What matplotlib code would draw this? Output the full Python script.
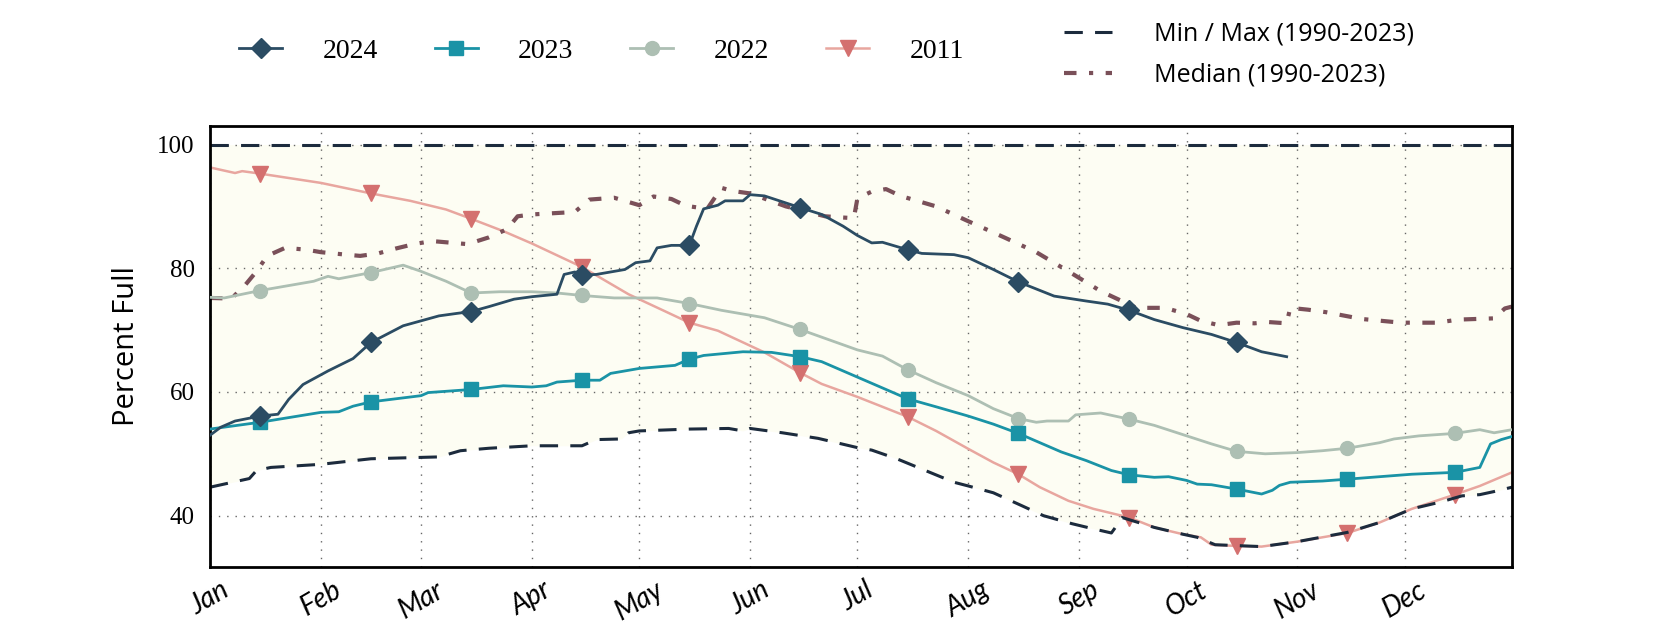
import matplotlib.pyplot as plt
import numpy as np

# day of year (0 = Jan 1)
days_2024 = [0, 3, 7, 14, 19, 22, 26, 33, 40, 45, 54, 64, 69, 73, 78, 85, 90, 97, 99, 102, 104, 108,
             116, 119, 123, 125, 129, 134, 136, 138, 142, 144, 149, 151, 155, 165, 171, 177, 181, 185,
             188, 195, 199, 208, 212, 219, 226, 236, 245, 251, 257, 264, 272, 280, 287, 294, 301]
vals_2024 = [53.0, 54.3, 55.3, 56.1, 56.4, 58.8, 61.2, 63.4, 65.4, 68.0, 70.7, 72.3, 72.7, 73.0, 73.8,
             75.0, 75.4, 75.8, 79.0, 79.4, 78.9, 79.0, 79.8, 80.9, 81.2, 83.3, 83.7, 83.7, 86.8, 89.6,
             90.2, 90.9, 90.9, 91.9, 91.7, 89.8, 88.7, 86.8, 85.3, 84.1, 84.2, 83.0, 82.4, 82.2, 81.7,
             79.8, 77.8, 75.5, 74.7, 74.2, 73.2, 71.7, 70.4, 69.3, 68.0, 66.5, 65.7]

days_2023 = [0, 14, 31, 36, 40, 45, 59, 61, 73, 82, 90, 94, 97, 104, 109, 112, 120, 130, 134, 138, 149,
             157, 165, 171, 181, 195, 203, 212, 219, 226, 238, 245, 252, 257, 264, 268, 273, 276, 280,
             287, 294, 297, 299, 302, 311, 318, 327, 336, 348, 355, 358, 361, 364]
vals_2023 = [54.0, 55.1, 56.7, 56.8, 57.7, 58.4, 59.4, 59.9, 60.4, 61.0, 60.8, 61.0, 61.6, 61.9, 61.9,
             63.0, 63.8, 64.3, 65.3, 65.9, 66.5, 66.4, 65.7, 64.9, 62.4, 58.9, 57.6, 56.1, 54.8, 53.3,
             50.3, 48.9, 47.3, 46.6, 46.2, 46.3, 45.7, 45.1, 45.0, 44.3, 43.5, 44.1, 44.9, 45.4, 45.6,
             45.9, 46.3, 46.7, 47.0, 47.8, 51.6, 52.3, 52.8]

days_2022 = [0, 4, 14, 29, 33, 36, 45, 54, 59, 66, 73, 81, 90, 97, 104, 113, 125, 134, 143, 155, 165,
             181, 188, 195, 203, 212, 219, 226, 231, 234, 240, 242, 249, 257, 264, 272, 280, 287, 295,
             304, 311, 318, 327, 331, 338, 348, 355, 359, 364]
vals_2022 = [75.3, 75.2, 76.4, 77.9, 78.7, 78.3, 79.3, 80.5, 79.5, 77.9, 76.0, 76.2, 76.2, 76.0, 75.6,
             75.2, 75.2, 74.3, 73.2, 72.0, 70.1, 66.8, 65.8, 63.6, 61.5, 59.4, 57.3, 55.7, 55.1, 55.3,
             55.3, 56.3, 56.6, 55.6, 54.6, 53.1, 51.6, 50.4, 50.0, 50.2, 50.5, 50.9, 51.8, 52.4, 52.9,
             53.3, 53.9, 53.4, 53.9]

days_2011 = [0, 7, 9, 14, 31, 45, 56, 66, 73, 82, 90, 104, 117, 127, 134, 142, 155, 165, 171, 181, 195,
             203, 212, 219, 226, 232, 240, 247, 257, 264, 272, 277, 280, 287, 294, 304, 318, 327, 336,
             348, 355, 364]
vals_2011 = [96.3, 95.4, 95.7, 95.3, 93.8, 92.1, 90.9, 89.5, 88.0, 86.0, 84.0, 80.2, 75.8, 73.1, 71.2,
             69.9, 66.4, 63.1, 61.3, 59.2, 56.0, 53.7, 50.8, 48.6, 46.7, 44.6, 42.4, 41.1, 39.7, 38.1,
             37.0, 36.5, 35.3, 35.1, 35.0, 35.8, 37.2, 38.9, 41.1, 43.4, 44.8, 47.0]

days_min = [0, 11, 13, 17, 31, 45, 64, 70, 78, 90, 104, 108, 115, 117, 120, 134, 145, 149, 151, 160,
            170, 181, 185, 192, 200, 208, 212, 219, 227, 233, 241, 246, 252, 253, 255, 264, 272, 276,
            281, 294, 304, 318, 327, 336, 344, 350, 355, 359, 364]
vals_min = [44.6, 46.0, 47.3, 47.8, 48.3, 49.2, 49.5, 50.5, 50.9, 51.3, 51.3, 52.3, 52.4, 53.4, 53.7,
            54.0, 54.1, 53.7, 54.1, 53.4, 52.5, 51.0, 50.6, 49.2, 47.3, 45.4, 44.8, 43.7, 41.6, 40.0,
            38.7, 38.0, 37.2, 38.0, 39.7, 38.1, 37.0, 36.5, 35.3, 35.0, 35.8, 37.3, 38.9, 41.1, 42.2,
            43.2, 43.4, 43.9, 44.6]
max_value = 100

days_med = [0, 6, 10, 13, 16, 21, 27, 31, 38, 42, 47, 52, 57, 62, 68, 72, 78, 83, 86, 90, 102, 106, 113,
            120, 124, 129, 133, 139, 143, 146, 151, 161, 172, 177, 180, 181, 185, 189, 193, 203, 212,
            222, 231, 240, 249, 259, 267, 273, 277, 282, 287, 292, 296, 301, 302, 307, 312, 322, 333,
            343, 349, 359, 362, 364]
vals_med = [75.2, 75.1, 77.4, 79.5, 82.0, 83.3, 83.0, 82.6, 82.2, 82.0, 82.4, 83.2, 83.9, 84.4, 84.1,
            83.9, 85.0, 86.3, 88.4, 88.7, 89.1, 91.1, 91.4, 90.2, 91.6, 91.2, 90.1, 89.6, 93.0, 92.5,
            92.1, 90.0, 88.4, 88.2, 88.1, 91.3, 92.4, 92.8, 91.7, 90.0, 87.6, 85.0, 82.6, 79.5, 76.3,
            73.6, 73.6, 72.6, 71.5, 70.8, 71.2, 71.1, 71.3, 71.1, 73.6, 73.3, 72.9, 71.8, 71.2, 71.2,
            71.7, 71.9, 73.5, 73.8]

month_starts = [0, 31, 59, 90, 120, 151, 181, 212, 243, 273, 304, 334]
month_labels = ['Jan', 'Feb', 'Mar', 'Apr', 'May', 'Jun', 'Jul', 'Aug', 'Sep', 'Oct', 'Nov', 'Dec']
mid_month = [14, 45, 73, 104, 134, 165, 195, 226, 257, 287, 318, 348]
y_ticks = [40, 60, 80, 100]

c2024 = '#2b4c63'
c2023 = '#1a93a6'
c2022 = '#adbfb3'
c2011_line = '#e8a69f'
c2011_mark = '#d4706f'
c_minmax = '#1c2b3d'
c_median = '#7a5059'


def marks(days):
    return [i for i, d in enumerate(days) if d in mid_month]


fig = plt.figure(figsize=(16.8, 6.3), dpi=100)
ax = fig.add_axes([0.125, 0.1, 0.775, 0.7])

ax.fill_between(days_min, vals_min, max_value, color='#fdfdf3', zorder=0.5, lw=0)

ax.plot(days_2011, vals_2011, color=c2011_line, lw=1.8, marker='v', ms=11,
        mfc=c2011_mark, mec=c2011_mark, markevery=marks(days_2011), label='2011', zorder=2)
ax.plot(days_min, vals_min, color=c_minmax, lw=2.2, ls=(0, (6, 4)), zorder=2.5,
        label='Min / Max (1990-2023)')
ax.axhline(max_value, color=c_minmax, lw=2.2, ls=(0, (6, 4)), zorder=2.5)
ax.plot(days_med, vals_med, color=c_median, lw=3, ls=(0, (3, 3, 1, 3)), zorder=2.5,
        label='Median (1990-2023)')
ax.plot(days_2022, vals_2022, color=c2022, lw=2, marker='o', ms=10,
        markevery=marks(days_2022), label='2022', zorder=3)
ax.plot(days_2023, vals_2023, color=c2023, lw=2, marker='s', ms=10,
        markevery=marks(days_2023), label='2023', zorder=3)
ax.plot(days_2024, vals_2024, color=c2024, lw=2, marker='D', ms=10,
        markevery=marks(days_2024), label='2024', zorder=3.5)

ax.set_xlim(0, 364)
ax.set_ylim(31.7, 103)
ax.set_xticks(month_starts)
ax.set_xticklabels(month_labels, rotation=30, ha='center', family='Lato',
                   style='italic', fontsize=20)
ax.set_yticks(y_ticks)
ax.set_yticklabels([str(v) for v in y_ticks], family='Liberation Serif', fontsize=18)
ax.tick_params(length=0, pad=11)
ax.tick_params(axis='x', pad=7)
ax.grid(True, color='#666666', ls=(0, (1, 5)), lw=1)
for s in ax.spines.values():
    s.set_linewidth(2)
    s.set_color('black')
ax.set_ylabel('Percent Full', family='Open Sans', fontsize=21, labelpad=12)

h, l = ax.get_legend_handles_labels()
d = dict(zip(l, h))
fig.legend([d['2024'], d['2023'], d['2022'], d['2011']], ['2024', '2023', '2022', '2011'],
           loc='center', bbox_to_anchor=(0.358, 0.919), ncol=4, frameon=False,
           prop={'family': 'Liberation Serif', 'size': 20}, handlelength=1.55,
           handletextpad=1.45, columnspacing=2.05)
fig.legend([d['Min / Max (1990-2023)'], d['Median (1990-2023)']],
           ['Min / Max (1990-2023)', 'Median (1990-2023)'],
           loc='center left', bbox_to_anchor=(0.620, 0.913), ncol=1, frameon=False,
           prop={'family': 'Open Sans', 'size': 18}, handlelength=1.9,
           handletextpad=1.7, labelspacing=0.65)

fig.savefig('out.png', dpi=100)
